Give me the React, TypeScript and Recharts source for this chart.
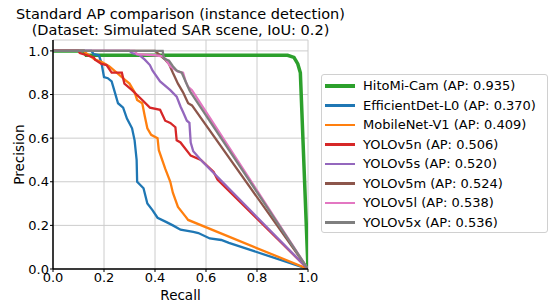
import React from 'react';
import { LineChart, Line, XAxis, YAxis, CartesianGrid } from 'recharts';

const FONT = '"DejaVu Sans", Verdana, sans-serif';

// precision / recall points
const hitomiRecall = [0, 0.12, 0.13, 0.92, 0.945, 0.96, 0.97, 1.0];
const hitomiPrecision = [1, 1, 0.98, 0.98, 0.97, 0.94, 0.9, 0];

const effdetRecall = [0, 0.15, 0.16, 0.18, 0.19, 0.2, 0.215, 0.23, 0.24, 0.255, 0.275, 0.29, 0.31, 0.32, 0.328, 0.33, 0.355, 0.37, 0.39, 0.41, 0.445, 0.47, 0.5, 0.55, 0.57, 0.615, 0.66, 0.69, 1.0];
const effdetPrecision = [1, 1, 0.985, 0.98, 0.945, 0.88, 0.875, 0.86, 0.82, 0.76, 0.74, 0.69, 0.645, 0.59, 0.5, 0.4, 0.37, 0.3, 0.27, 0.235, 0.215, 0.2, 0.18, 0.17, 0.165, 0.14, 0.133, 0.12, 0];

const mobilenetRecall = [0, 0.12, 0.13, 0.165, 0.19, 0.22, 0.26, 0.28, 0.3, 0.32, 0.33, 0.35, 0.36, 0.37, 0.385, 0.41, 0.415, 0.44, 0.46, 0.47, 0.49, 0.52, 0.53, 1.0];
const mobilenetPrecision = [1, 1, 0.99, 0.96, 0.95, 0.93, 0.89, 0.87, 0.85, 0.81, 0.775, 0.76, 0.7, 0.645, 0.615, 0.6, 0.545, 0.46, 0.4, 0.35, 0.285, 0.24, 0.225, 0];

const v5nRecall = [0, 0.1, 0.105, 0.16, 0.165, 0.19, 0.21, 0.23, 0.27, 0.28, 0.31, 0.35, 0.38, 0.42, 0.44, 0.46, 0.48, 0.485, 0.5, 0.54, 0.58, 0.63, 0.645, 1.0];
const v5nPrecision = [1, 1, 0.99, 0.97, 0.96, 0.94, 0.935, 0.9, 0.9, 0.85, 0.82, 0.775, 0.74, 0.73, 0.68, 0.67, 0.65, 0.59, 0.58, 0.52, 0.5, 0.445, 0.41, 0];

const v5sRecall = [0, 0.3, 0.31, 0.34, 0.36, 0.38, 0.39, 0.42, 0.46, 0.485, 0.5, 0.51, 0.525, 0.535, 0.54, 0.55, 0.58, 1.0];
const v5sPrecision = [1, 1, 0.99, 0.98, 0.96, 0.935, 0.91, 0.86, 0.82, 0.79, 0.745, 0.72, 0.68, 0.67, 0.58, 0.54, 0.5, 0];

const v5mRecall = [0, 0.4, 0.42, 0.44, 0.455, 0.47, 0.49, 0.51, 0.53, 0.545, 1.0];
const v5mPrecision = [1, 1, 0.98, 0.96, 0.94, 0.9, 0.85, 0.81, 0.76, 0.75, 0];

const v5lRecall = [0, 0.32, 0.33, 0.4, 0.43, 0.44, 0.46, 0.49, 0.51, 0.52, 0.53, 0.545, 1.0];
const v5lPrecision = [1, 1, 0.985, 0.98, 0.975, 0.965, 0.93, 0.905, 0.9, 0.86, 0.835, 0.82, 0];

const v5xRecall = [0, 0.43, 0.435, 0.455, 0.47, 0.485, 0.505, 0.52, 0.535, 0.54, 1.0];
const v5xPrecision = [1, 1, 0.965, 0.955, 0.93, 0.91, 0.9, 0.86, 0.82, 0.81, 0];

const xTicks = [0, 0.2, 0.4, 0.6, 0.8, 1.0];
const yTicks = [0, 0.2, 0.4, 0.6, 0.8, 1.0];

const toPoints = (r: number[], p: number[]) => r.map((x, i) => ({ r: x, p: p[i] }));

const series = [
  { name: 'HitoMi-Cam (AP: 0.935)', color: '#2ca02c', width: 3.5, data: toPoints(hitomiRecall, hitomiPrecision) },
  { name: 'EfficientDet-L0 (AP: 0.370)', color: '#1f77b4', width: 2.3, data: toPoints(effdetRecall, effdetPrecision) },
  { name: 'MobileNet-V1 (AP: 0.409)', color: '#ff7f0e', width: 2.3, data: toPoints(mobilenetRecall, mobilenetPrecision) },
  { name: 'YOLOv5n (AP: 0.506)', color: '#d62728', width: 2.3, data: toPoints(v5nRecall, v5nPrecision) },
  { name: 'YOLOv5s (AP: 0.520)', color: '#9467bd', width: 2.3, data: toPoints(v5sRecall, v5sPrecision) },
  { name: 'YOLOv5m (AP: 0.524)', color: '#8c564b', width: 2.3, data: toPoints(v5mRecall, v5mPrecision) },
  { name: 'YOLOv5l (AP: 0.538)', color: '#e377c2', width: 2.3, data: toPoints(v5lRecall, v5lPrecision) },
  { name: 'YOLOv5x (AP: 0.536)', color: '#7f7f7f', width: 2.3, data: toPoints(v5xRecall, v5xPrecision) },
];

const tickStyle = { fill: '#000', fontSize: 13, fontFamily: FONT };

export default function App() {
  return (
    <div style={{ position: 'absolute', left: 0, top: 0, width: 555, height: 307, background: '#fff', fontFamily: FONT }}>
      <div
        style={{
          position: 'absolute', left: 0, top: 7, width: 361, textAlign: 'center',
          fontSize: 14.5, lineHeight: '15.5px', color: '#000', whiteSpace: 'nowrap',
        }}
      >
        Standard AP comparison (instance detection)
        <br />
        (Dataset: Simulated SAR scene, IoU: 0.2)
      </div>

      <LineChart width={555} height={307} margin={{ top: 40, right: 247, bottom: 0, left: 0 }}>
        <CartesianGrid stroke="#cccccc" strokeWidth={1} />
        <XAxis
          type="number"
          dataKey="r"
          domain={[0, 1]}
          ticks={xTicks}
          tickFormatter={(v: number) => v.toFixed(1)}
          height={38}
          tick={tickStyle}
          tickSize={3}
          tickMargin={1}
          stroke="#000"
          axisLine={{ stroke: '#000', strokeWidth: 1.5 }}
          allowDataOverflow
          label={{ value: 'Recall', position: 'insideBottom', offset: 7, fill: '#000', fontSize: 13.5, fontFamily: FONT }}
        />
        <XAxis xAxisId="top" orientation="top" type="number" domain={[0, 1]} height={0} tick={false} tickLine={false} axisLine={{ stroke: '#777' }} />
        <YAxis
          type="number"
          domain={[0, 1.05]}
          ticks={yTicks}
          tickFormatter={(v: number) => v.toFixed(1)}
          width={53}
          tick={tickStyle}
          tickSize={3}
          tickMargin={1}
          stroke="#000"
          axisLine={{ stroke: '#000', strokeWidth: 1.5 }}
          allowDataOverflow
          label={{ value: 'Precision', angle: -90, position: 'insideLeft', offset: 19, fill: '#000', fontSize: 13.5, fontFamily: FONT, style: { textAnchor: 'middle' } }}
        />
        <YAxis yAxisId="right" orientation="right" type="number" domain={[0, 1]} width={0} tick={false} tickLine={false} axisLine={{ stroke: '#777' }} />
        {series.map((s) => (
          <Line
            key={s.name}
            data={s.data}
            dataKey="p"
            name={s.name}
            type="linear"
            stroke={s.color}
            strokeWidth={s.width}
            dot={false}
            activeDot={false}
            isAnimationActive={false}
          />
        ))}
      </LineChart>

      <div
        style={{
          position: 'absolute', left: 321, top: 74, width: 227, height: 159,
          border: '1px solid #d0d0d0', borderRadius: 3, boxSizing: 'border-box', background: '#fff',
        }}
      >
        {series.map((s, i) => (
          <div key={s.name} style={{ position: 'absolute', left: 0, top: 1 + i * 19.5, height: 19.5, display: 'flex', alignItems: 'center' }}>
            <div style={{ marginLeft: 3, width: 30, height: s.width === 3.5 ? 3.5 : 2.5, background: s.color }} />
            <span style={{ marginLeft: 8, fontSize: 13, color: '#000', whiteSpace: 'nowrap' }}>{s.name}</span>
          </div>
        ))}
      </div>
    </div>
  );
}
